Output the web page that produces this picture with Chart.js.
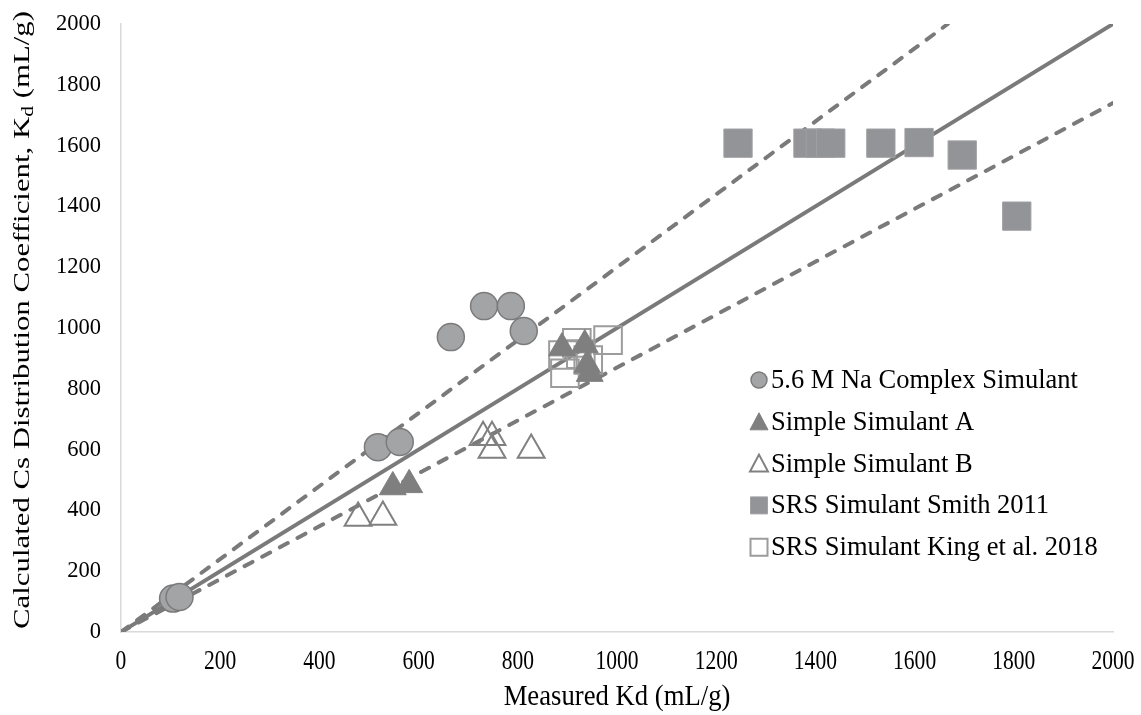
<!DOCTYPE html>
<html>
<head>
<meta charset="utf-8">
<script src="https://cdn.jsdelivr.net/npm/chart.js@4/dist/chart.umd.min.js"></script>
<style>
  html, body { margin: 0; padding: 0; background: #fff; }
  #wrap { width: 1141px; height: 715px; position: relative; }
</style>
</head>
<body>
<div id="wrap"><canvas id="kdChart" width="1141" height="715"></canvas></div>
<script>
// Measured vs calculated Kd (mL/g)
const naComplexX = [105, 118, 518, 562, 665, 732, 786, 812];
const naComplexY = [110, 115, 608, 625, 970, 1072, 1072, 990];

const simpleAX = [548, 581, 889, 935, 940, 945];
const simpleAY = [477, 484, 934, 944, 878, 850];

const simpleBX = [478, 528, 730, 748, 748, 827];
const simpleBY = [375, 378, 641, 641, 599, 599];

const smithX = [1244, 1385, 1410, 1431, 1532, 1609, 1696, 1806];
const smithY = [1608, 1608, 1608, 1608, 1608, 1610, 1569, 1368];

const kingX = [891, 919, 982, 942, 895, 927];
const kingY = [911, 951, 960, 895, 851, 914];

// 1:1 line and the +/- bounds
const fitX = [0, 2000];
const fitY = [0, 2000];
const upperX = [0, 1667];
const upperY = [0, 2000];
const lowerX = [0, 2000];
const lowerY = [0, 1740];

const axisTicks = [0, 200, 400, 600, 800, 1000, 1200, 1400, 1600, 1800, 2000];

const FONT = '"Liberation Serif", "Times New Roman", serif';
const LINE_GREY = '#7a7a7a';

const pts = (xs, ys) => xs.map((x, i) => ({ x: x, y: ys[i] }));

const markerSets = [
    { label: '5.6 M Na Complex Simulant', data: pts(naComplexX, naComplexY), pointStyle: 'circle', pointRadius: 13.5, backgroundColor: '#a3a4a6', borderColor: '#7b7b7b', borderWidth: 1.5 },
    { label: 'Simple Simulant A', data: pts(simpleAX, simpleAY), pointStyle: 'triangle', pointRadius: 15.5, backgroundColor: '#7f7f7f', borderColor: '#7f7f7f', borderWidth: 1 },
    { label: 'Simple Simulant B', data: pts(simpleBX, simpleBY), pointStyle: 'triangle', pointRadius: 15.5, backgroundColor: 'rgba(255,255,255,0)', borderColor: '#808080', borderWidth: 2 },
    { label: 'SRS Simulant Smith 2011', data: pts(smithX, smithY), pointStyle: 'rect', pointRadius: 20, backgroundColor: '#939498', borderColor: '#a0a1a4', borderWidth: 1 },
    { label: 'SRS Simulant King et al. 2018', data: pts(kingX, kingY), pointStyle: 'rect', pointRadius: 19.5, backgroundColor: 'rgba(255,255,255,0)', borderColor: '#9c9c9c', borderWidth: 2 }
];

const lineSets = [
    { label: 'fit', data: pts(fitX, fitY), borderDash: [] },
    { label: 'upper', data: pts(upperX, upperY), borderDash: [9, 11] },
    { label: 'lower', data: pts(lowerX, lowerY), borderDash: [9, 11] }
].map(d => Object.assign(d, {
    showLine: true,
    pointRadius: 0,
    borderColor: LINE_GREY,
    borderWidth: 4,
    borderCapStyle: 'round',
    fill: false,
    order: 10
}));

// text drawn squeezed/stretched horizontally, centred at cx
function drawScaledText(ctx, text, cx, cy, font, sx) {
    ctx.save();
    ctx.font = font;
    ctx.translate(cx, cy);
    ctx.scale(sx, 1);
    ctx.textAlign = 'center';
    ctx.textBaseline = 'middle';
    ctx.fillText(text, 0, 0);
    ctx.restore();
}

// draws x ticks/title, y title with subscript d and the legend
const overlayPlugin = {
    id: 'overlay',
    afterDraw(chart) {
        const ctx = chart.ctx;
        const xs = chart.scales.x;
        ctx.save();
        ctx.fillStyle = '#000';

        // x tick labels (narrow, tall look of the original)
        axisTicks.forEach(v => {
            drawScaledText(ctx, String(v), xs.getPixelForValue(v), 662, '28px ' + FONT, 0.77);
        });
        // x title
        drawScaledText(ctx, 'Measured Kd (mL/g)', (chart.chartArea.left + chart.chartArea.right) / 2, 697, '29px ' + FONT, 0.92);

        // y axis title, stretched to the original length
        const big = '23px ' + FONT;
        const small = '16px ' + FONT;
        const p1 = 'Calculated Cs Distribution Coefficient, K';
        const p2 = 'd';
        const p3 = ' (mL/g)';
        ctx.font = big;
        const w1 = ctx.measureText(p1).width;
        const w3 = ctx.measureText(p3).width;
        ctx.font = small;
        const w2 = ctx.measureText(p2).width;
        const total = w1 + w2 + w3;
        ctx.translate(23, 320);
        ctx.rotate(-Math.PI / 2);
        ctx.scale(618 / total, 1);
        ctx.textBaseline = 'middle';
        ctx.textAlign = 'left';
        let x = -total / 2;
        ctx.font = big;
        ctx.fillText(p1, x, 0);
        x += w1;
        ctx.font = small;
        ctx.fillText(p2, x, 6);
        x += w2;
        ctx.font = big;
        ctx.fillText(p3, x, 0);
        ctx.setTransform(1, 0, 0, 1, 0, 0);

        // legend
        const mx = 759, tx = 771, y0 = 380, step = 41.8;
        markerSets.forEach((ds, i) => {
            const y = y0 + i * step;
            ctx.fillStyle = ds.backgroundColor;
            ctx.strokeStyle = ds.borderColor;
            ctx.lineWidth = ds.borderWidth;
            ctx.beginPath();
            if (ds.pointStyle === 'circle') {
                ctx.arc(mx, y, 8, 0, Math.PI * 2);
            } else if (ds.pointStyle === 'triangle') {
                ctx.moveTo(mx, y - 9);
                ctx.lineTo(mx + 9, y + 8);
                ctx.lineTo(mx - 9, y + 8);
                ctx.closePath();
            } else {
                ctx.rect(mx - 8.5, y - 8.5, 17, 17);
            }
            ctx.fill();
            ctx.stroke();
            ctx.fillStyle = '#000';
            ctx.font = '26.5px ' + FONT;
            ctx.textAlign = 'left';
            ctx.textBaseline = 'middle';
            ctx.fillText(ds.label, tx, y + 1);
        });
        ctx.restore();
    }
};

new Chart(document.getElementById('kdChart'), {
    type: 'scatter',
    data: { datasets: markerSets.concat(lineSets) },
    options: {
        responsive: false,
        animation: false,
        events: [],
        layout: { padding: { top: 24, right: 28, left: 0, bottom: 0 } },
        plugins: {
            legend: { display: false },
            tooltip: { enabled: false }
        },
        scales: {
            x: {
                type: 'linear',
                min: 0,
                max: 2000,
                afterBuildTicks: s => { s.ticks = axisTicks.map(v => ({ value: v })); },
                afterFit: s => { s.height = 83; s.paddingLeft = 0; s.paddingRight = 0; },
                grid: { display: false, drawTicks: false },
                border: { display: true, color: '#d9d9d9', width: 1.5 },
                ticks: { display: false }
            },
            y: {
                type: 'linear',
                min: 0,
                max: 2000,
                afterBuildTicks: s => { s.ticks = axisTicks.map(v => ({ value: v })); },
                afterFit: s => { s.width = 121; s.paddingTop = 0; s.paddingBottom = 0; },
                grid: { display: false, drawTicks: false },
                border: { display: true, color: '#d9d9d9', width: 1.5 },
                ticks: { color: '#000', font: { family: FONT, size: 22.5 }, padding: 20, callback: v => String(v) }
            }
        }
    },
    plugins: [overlayPlugin]
});
</script>
</body>
</html>
